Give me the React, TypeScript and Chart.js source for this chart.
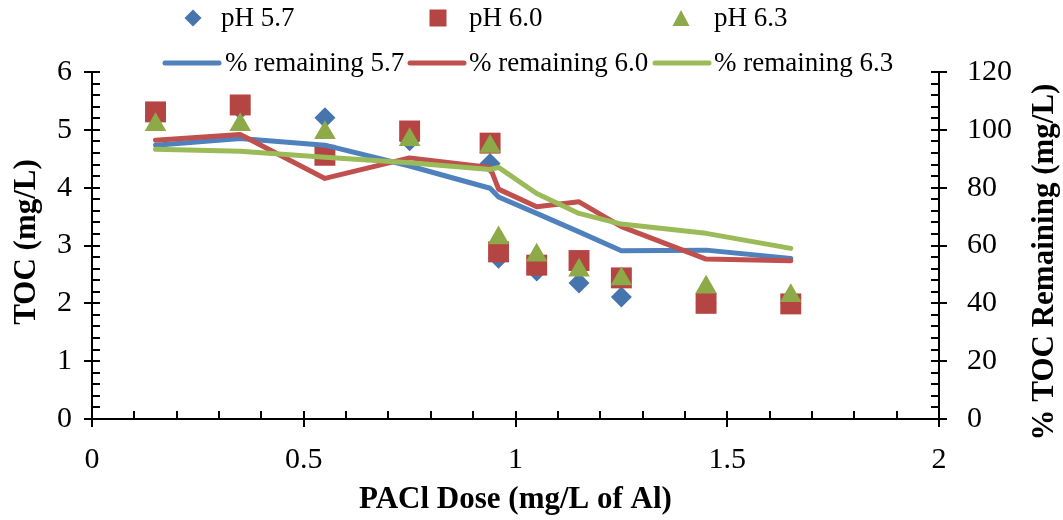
import React, { useEffect, useRef } from 'react';
import { Chart, registerables } from 'chart.js';

Chart.register(...registerables);

// ---- data ----
const doses = [0.15, 0.35, 0.55, 0.75, 0.94, 0.96, 1.05, 1.15, 1.25, 1.45, 1.65];
const tocPH57 = [5.22, 5.35, 5.21, 4.81, 4.42, 2.78, 2.56, 2.35, 2.11, 2.0, 2.0];
const tocPH60 = [5.31, 5.43, 4.56, 4.98, 4.77, 2.89, 2.66, 2.74, 2.44, 2.0, 1.99];
const tocPH63 = [5.09, 5.09, 4.95, 4.83, 4.71, 3.13, 2.83, 2.57, 2.42, 2.28, 2.13];
const remaining57 = [94.7, 97.0, 94.7, 87.5, 79.8, 76.8, 71.1, 64.7, 58.2, 58.4, 55.5];
const remaining60 = [96.4, 98.4, 83.2, 90.3, 87.0, 79.5, 73.4, 75.1, 66.5, 55.3, 54.7];
const remaining63 = [93.3, 92.6, 90.5, 88.6, 86.3, 87.0, 78.0, 71.1, 67.4, 64.2, 59.0];

const markerLabels = ['pH 5.7', 'pH 6.0', 'pH 6.3'];
const lineLabels = ['% remaining 5.7', '% remaining 6.0', '% remaining 6.3'];
const xTitle = 'PACl Dose (mg/L of Al)';
const yTitle = 'TOC (mg/L)';
const y1Title = '% TOC Remaining (mg/L)';

const LINE_COLORS = ['#4F81BD', '#C0504D', '#9BBB59'];
const MARKER_COLORS = ['#4674AC', '#B44542', '#8DA948'];
const FONT = "'Liberation Serif', 'Times New Roman', serif";

const pts = (ys: number[]) => doses.map((d, i) => ({ x: d, y: ys[i] }));

function drawDiamond(ctx: CanvasRenderingContext2D, x: number, y: number, r: number) {
  ctx.beginPath();
  ctx.moveTo(x, y - r);
  ctx.lineTo(x + r, y);
  ctx.lineTo(x, y + r);
  ctx.lineTo(x - r, y);
  ctx.closePath();
  ctx.fill();
}
function drawSquare(ctx: CanvasRenderingContext2D, x: number, y: number, s: number) {
  ctx.fillRect(x - s / 2, y - s / 2, s, s);
}
function drawTriangle(ctx: CanvasRenderingContext2D, x: number, y: number, w: number) {
  const h = w * 0.95;
  ctx.beginPath();
  ctx.moveTo(x, y - h / 2);
  ctx.lineTo(x + w / 2, y + h / 2);
  ctx.lineTo(x - w / 2, y + h / 2);
  ctx.closePath();
  ctx.fill();
}

const decorPlugin = {
  id: 'decor',
  afterDraw(chart: any) {
    const ctx: CanvasRenderingContext2D = chart.ctx;
    const { x, y, y1 } = chart.scales;
    const area = chart.chartArea;
    ctx.save();
    // tick marks (major crossing the axis, minor inside)
    ctx.strokeStyle = '#000';
    ctx.lineWidth = 2;
    ctx.beginPath();
    for (let i = 0; i <= 20; i++) {
      const px = Math.round(x.getPixelForValue(i * 0.1));
      const major = i % 5 === 0;
      ctx.moveTo(px, area.bottom + (major ? 8 : 0));
      ctx.lineTo(px, area.bottom - 8);
    }
    for (let i = 0; i <= 30; i++) {
      const py = Math.round(y.getPixelForValue(i * 0.2));
      const major = i % 5 === 0;
      ctx.moveTo(area.left - (major ? 8 : 0), py);
      ctx.lineTo(area.left + 8, py);
    }
    for (let i = 0; i <= 30; i++) {
      const py = Math.round(y1.getPixelForValue(i * 4));
      const major = i % 5 === 0;
      ctx.moveTo(area.right + (major ? 8 : 0), py);
      ctx.lineTo(area.right - 8, py);
    }
    ctx.stroke();

    // axis titles
    ctx.fillStyle = '#000';
    ctx.font = `bold 31px ${FONT}`;
    ctx.textAlign = 'center';
    ctx.textBaseline = 'middle';
    ctx.fillText(xTitle, (area.left + area.right) / 2, 500);
    ctx.save();
    ctx.translate(27, 242);
    ctx.rotate(-Math.PI / 2);
    ctx.fillText(yTitle, 0, 0);
    ctx.restore();
    ctx.save();
    ctx.translate(1045, 262);
    ctx.rotate(-Math.PI / 2);
    ctx.fillText(y1Title, 0, 0);
    ctx.restore();

    // legend
    ctx.font = `27px ${FONT}`;
    ctx.textAlign = 'left';
    ctx.textBaseline = 'middle';
    const row1Y = 18;
    const row2Y = 64;
    const markerX = [193, 438, 681];
    const textX1 = [221, 469, 714];
    ctx.fillStyle = MARKER_COLORS[0];
    drawDiamond(ctx, markerX[0], row1Y, 8.5);
    ctx.fillStyle = MARKER_COLORS[1];
    drawSquare(ctx, markerX[1], row1Y, 17);
    ctx.fillStyle = MARKER_COLORS[2];
    drawTriangle(ctx, markerX[2], row1Y, 17);
    ctx.fillStyle = '#000';
    markerLabels.forEach((t, i) => ctx.fillText(t, textX1[i], row1Y + 1));

    const lineStart = [165, 410, 655];
    const textX2 = [225, 469, 714];
    ctx.lineWidth = 5;
    ctx.lineCap = 'round';
    lineLabels.forEach((t, i) => {
      ctx.strokeStyle = LINE_COLORS[i];
      ctx.beginPath();
      ctx.moveTo(lineStart[i], row2Y - 1);
      ctx.lineTo(lineStart[i] + 54, row2Y - 1);
      ctx.stroke();
      ctx.fillStyle = '#000';
      ctx.fillText(t, textX2[i], row2Y);
    });
    ctx.restore();
  },
};

export default function App() {
  const ref = useRef<HTMLCanvasElement>(null);
  useEffect(() => {
    const tickFont = { family: FONT, size: 30 };
    const lineDs = (i: number, ys: number[], order: number) => ({
      type: 'line',
      label: lineLabels[i],
      data: pts(ys),
      yAxisID: 'y1',
      borderColor: LINE_COLORS[i],
      backgroundColor: LINE_COLORS[i],
      borderWidth: 5,
      pointRadius: 0,
      tension: 0,
      borderJoinStyle: 'round',
      borderCapStyle: 'round',
      order,
    });
    const chart = new Chart(ref.current as HTMLCanvasElement, {
      type: 'scatter',
      data: {
        datasets: [
          lineDs(0, remaining57, 3),
          lineDs(1, remaining60, 2),
          lineDs(2, remaining63, 1),
          {
            label: markerLabels[0],
            data: pts(tocPH57),
            yAxisID: 'y',
            pointStyle: 'rectRot',
            pointRadius: 10.5,
            pointBackgroundColor: MARKER_COLORS[0],
            pointBorderColor: MARKER_COLORS[0],
            pointBorderWidth: 0,
            order: 6,
          },
          {
            label: markerLabels[1],
            data: pts(tocPH60),
            yAxisID: 'y',
            pointStyle: 'rect',
            pointRadius: 14.8,
            pointBackgroundColor: MARKER_COLORS[1],
            pointBorderColor: MARKER_COLORS[1],
            pointBorderWidth: 0,
            order: 5,
          },
          {
            label: markerLabels[2],
            data: pts(tocPH63),
            yAxisID: 'y',
            pointStyle: 'triangle',
            pointRadius: 12.5,
            pointBackgroundColor: MARKER_COLORS[2],
            pointBorderColor: MARKER_COLORS[2],
            pointBorderWidth: 0,
            order: 4,
          },
        ] as any,
      },
      options: {
        responsive: false,
        animation: false,
        devicePixelRatio: 1,
        layout: { padding: { top: 72, left: 0, right: 0, bottom: 0 } },
        plugins: { legend: { display: false }, tooltip: { enabled: false }, title: { display: false } },
        scales: {
          x: {
            type: 'linear',
            min: 0,
            max: 2,
            ticks: { stepSize: 0.5, font: tickFont, color: '#000', padding: 23, callback: (v: any) => String(Number(v)) },
            grid: { display: false, drawTicks: false },
            border: { display: true, color: '#000', width: 2 },
            afterFit: (s: any) => { s.height = 101; },
          },
          y: {
            type: 'linear',
            position: 'left',
            min: 0,
            max: 6,
            ticks: { stepSize: 1, font: tickFont, color: '#000', padding: 20, callback: (v: any) => String(Number(v)) },
            grid: { display: false, drawTicks: false },
            border: { display: true, color: '#000', width: 2 },
            afterFit: (s: any) => { s.width = 92; },
          },
          y1: {
            type: 'linear',
            position: 'right',
            min: 0,
            max: 120,
            ticks: { stepSize: 20, font: tickFont, color: '#000', padding: 28, callback: (v: any) => String(Number(v)) },
            grid: { display: false, drawTicks: false },
            border: { display: true, color: '#000', width: 2 },
            afterFit: (s: any) => { s.width = 124; },
          },
        },
      } as any,
      plugins: [decorPlugin],
    });
    return () => chart.destroy();
  }, []);
  return (
    <div style={{ position: 'absolute', left: 0, top: 0, width: 1063, height: 520, background: '#fff' }}>
      <canvas ref={ref} width={1063} height={520} style={{ display: 'block', width: 1063, height: 520 }} />
    </div>
  );
}
